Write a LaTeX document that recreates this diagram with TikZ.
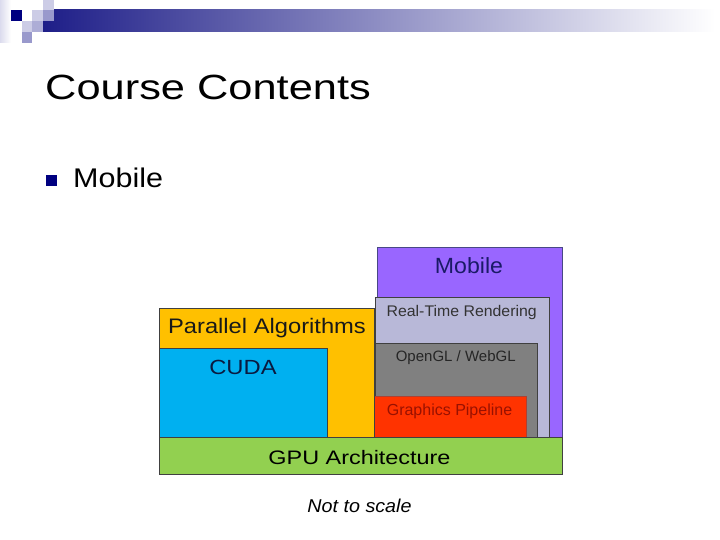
\documentclass[tikz,border=0pt]{standalone}
\usepackage{fontspec}
\setmainfont{Liberation Sans}
\definecolor{navyb}{HTML}{000080}
\definecolor{lav}{HTML}{CCCCE6}
\definecolor{medlav}{HTML}{9999CC}
\definecolor{barl}{HTML}{1E1E88}
\definecolor{barm}{HTML}{A6A6C0}
\definecolor{cmobile}{HTML}{9966FF}
\definecolor{crt}{HTML}{B8B8D8}
\definecolor{cogl}{HTML}{808080}
\definecolor{cgp}{HTML}{FF3300}
\definecolor{cpar}{HTML}{FFC000}
\definecolor{ccuda}{HTML}{00B0F0}
\definecolor{cgpu}{HTML}{92D050}
\definecolor{tmobile}{HTML}{1A1A66}
\definecolor{tgp}{HTML}{991100}
\definecolor{tcuda}{HTML}{0A1A40}
\tikzset{
  box/.style={draw=black!75, line width=0.8pt, inner sep=0pt, anchor=north west},
  lbl/.style={anchor=base, inner sep=0pt},
}
\begin{document}
\begin{tikzpicture}[x=1pt, y=-1pt]
\useasboundingbox (0,0) rectangle (720,540);
\fill[white] (0,0) rectangle (720,540);
% header decoration
\shade[left color=lav!70, right color=white] (0,0) rectangle (11,43);
\shade[left color=barl, middle color=barm, right color=white] (43,10) rectangle (715,32);
\fill[lav] (43,0) rectangle (54,10);
\fill[lav] (32,10) rectangle (43,21);
\fill[medlav] (43,10) rectangle (54,21);
\fill[navyb] (11,10) rectangle (22,21);
\fill[lav] (22,21) rectangle (32,32);
\fill[medlav!80] (32,21) rectangle (43,32);
\fill[medlav] (22,32) rectangle (32,43);
% title and bullet
\node[lbl, anchor=base west, xscale=1.24] (title) at (45,99.5) {\fontsize{35}{40}\selectfont Course Contents};
\fill[navyb] (46,175.5) rectangle (57,186.5);
\node[lbl, anchor=base west, xscale=1.13] (bullet) at (73,188) {\fontsize{27}{32}\selectfont Mobile};
% boxes
\node[box, fill=cmobile, draw=tmobile!80, minimum width=185pt, minimum height=189.4pt] (mobile) at (376.7,247.3) {};
\node[box, fill=crt, minimum width=174pt, minimum height=140pt] (rtr) at (375.3,296.7) {};
\node[box, fill=cogl, minimum width=162pt, minimum height=94pt] (ogl) at (375.3,342.7) {};
\node[box, fill=cgp, draw=tgp!80, minimum width=151.7pt, minimum height=40.7pt] (gp) at (374.3,396) {};
\node[box, fill=cpar, minimum width=214.7pt, minimum height=129pt] (par) at (159.3,307.7) {};
\node[box, fill=ccuda, minimum width=168pt, minimum height=88.4pt] (cuda) at (159.3,348.3) {};
\node[box, fill=cgpu, minimum width=402.4pt, minimum height=37.6pt] (gpu) at (159.3,436.7) {};
% labels
\node[lbl, text=tmobile, xscale=1.05] (tmob) at (469,273.5) {\fontsize{22}{26}\selectfont Mobile};
\node[lbl, text=black!80, xscale=1.03] (trtr) at (461.7,316) {\fontsize{15.4}{18}\selectfont Real-Time Rendering};
\node[lbl, text=black!85] (togl) at (455.7,361) {\fontsize{15}{18}\selectfont OpenGL / WebGL};
\node[lbl, text=tgp] (tgpl) at (449.5,415) {\fontsize{16}{19}\selectfont Graphics Pipeline};
\node[lbl, text=black!90, xscale=1.13] (tpar) at (267,333.3) {\fontsize{21}{25}\selectfont Parallel Algorithms};
\node[lbl, text=tcuda, xscale=1.16] (tcud) at (243,374.5) {\fontsize{20.5}{25}\selectfont CUDA};
\node[lbl, text=black, xscale=1.2] (tgpu) at (359.5,464) {\fontsize{19.5}{24}\selectfont GPU Architecture};
\node[lbl, text=black, xscale=1.06] (note) at (359.5,512.5) {\fontsize{18.6}{22}\selectfont\itshape Not to scale};
\end{tikzpicture}
\end{document}
